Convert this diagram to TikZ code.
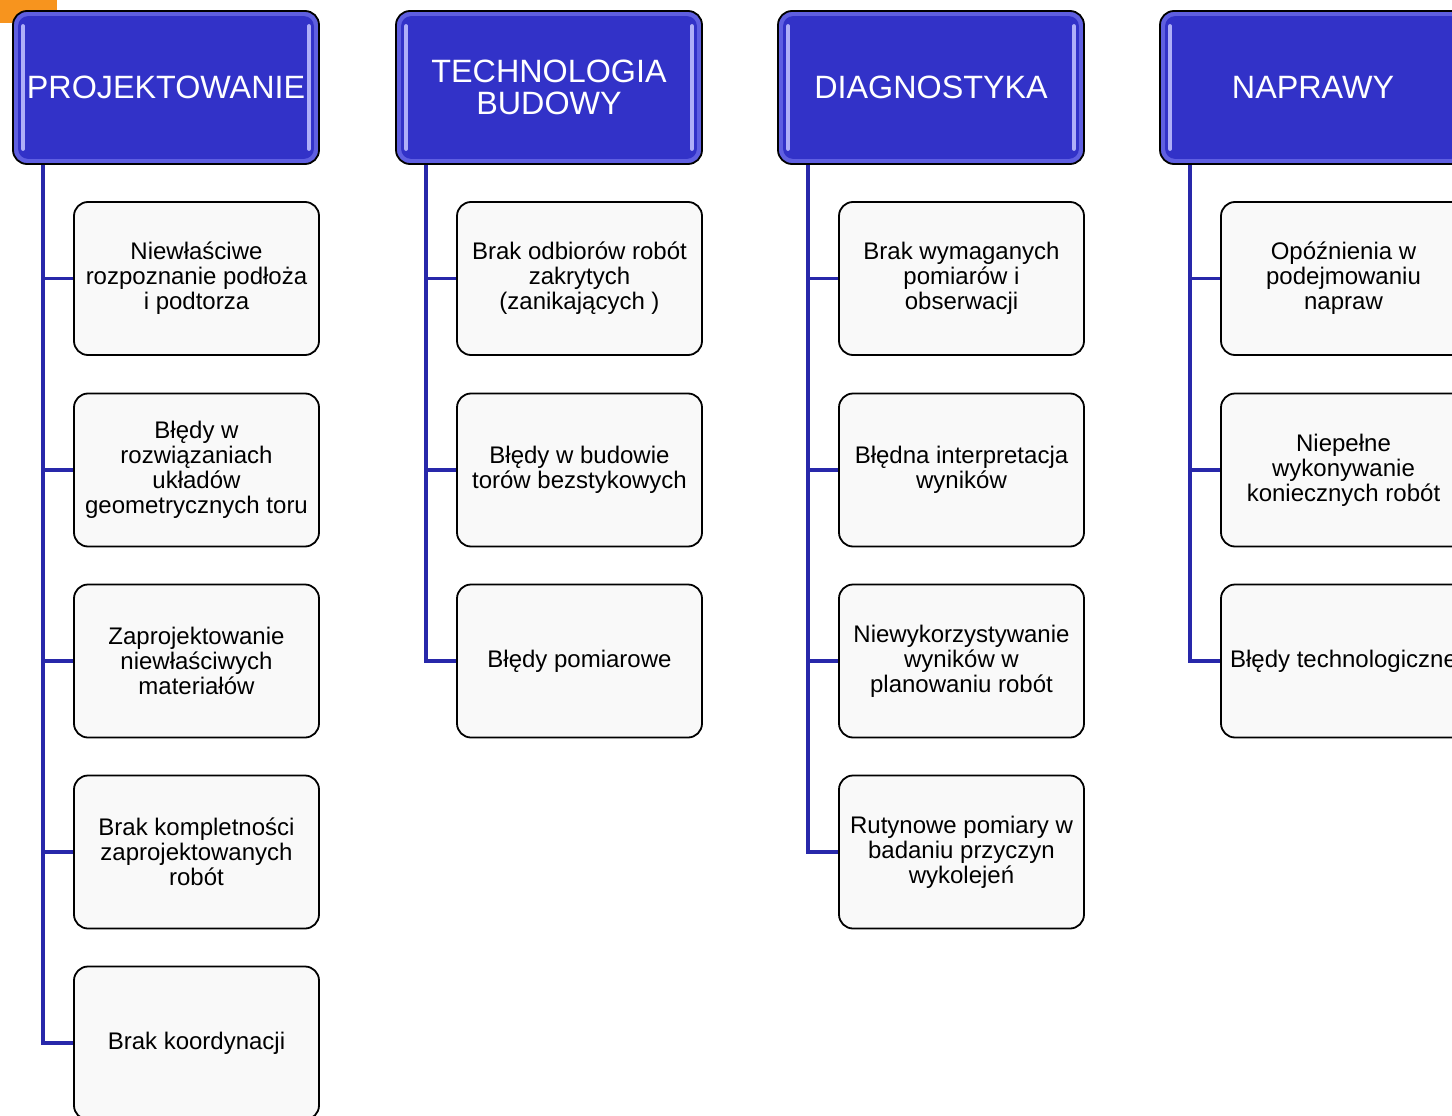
\documentclass[tikz,border=0pt]{standalone}
\usepackage{fontspec}
\setmainfont{Liberation Sans}
\definecolor{hdrfill}{RGB}{50,50,200}
\definecolor{hdrglow}{RGB}{95,95,225}
\definecolor{hdrbar}{RGB}{175,175,248}
\definecolor{connblue}{RGB}{40,40,170}
\definecolor{boxfill}{RGB}{249,249,249}
\definecolor{cornerorange}{RGB}{247,148,30}
\tikzset{
  hdr/.style={draw=black, line width=1.8pt, fill=hdrglow, rounded corners=14pt,
    minimum width=306pt, minimum height=153pt, inner sep=0pt, align=center,
    text=white, font=\fontsize{32.3}{32.5}\selectfont},
  hdrin/.style={fill=hdrfill, rounded corners=10pt},
  hdrbarline/.style={draw=hdrbar, line width=4pt, line cap=round},
  child/.style={draw=black, line width=1.8pt, fill=boxfill, rounded corners=14pt,
    minimum width=245pt, minimum height=153pt, inner sep=0pt, align=center,
    text=black, font=\fontsize{24}{25}\selectfont},
  conn/.style={draw=connblue, line width=3.2pt}
}
\newcommand{\hdrdeco}[1]{%
  \fill[hdrin] ([xshift=6pt,yshift=-6pt]#1.north west) rectangle ([xshift=-6pt,yshift=6pt]#1.south east);
  \draw[hdrbarline] ([xshift=11pt,yshift=-16pt]#1.north west) -- ([xshift=11pt,yshift=16pt]#1.south west);
  \draw[hdrbarline] ([xshift=-11pt,yshift=-16pt]#1.north east) -- ([xshift=-11pt,yshift=16pt]#1.south east);
}
\begin{document}
\begin{tikzpicture}[x=1pt,y=-1pt]
\useasboundingbox (0,0) rectangle (1452,1116);
\clip (0,0) rectangle (1452,1116);
\fill[cornerorange] (0,0) rectangle (57,23);

% headers
\node[hdr] (h1) at (166,87.5) {};
\node[hdr] (h2) at (549,87.5) {};
\node[hdr] (h3) at (931,87.5) {};
\node[hdr] (h4) at (1313,87.5) {};
\hdrdeco{h1}\hdrdeco{h2}\hdrdeco{h3}\hdrdeco{h4}
\node[hdr, draw=none, fill=none] (h1t) at (h1.center) {PROJEKTOWANIE};
\node[hdr, draw=none, fill=none] (h2t) at (h2.center) {TECHNOLOGIA\\BUDOWY};
\node[hdr, draw=none, fill=none] (h3t) at (h3.center) {DIAGNOSTYKA};
\node[hdr, draw=none, fill=none] (h4t) at (h4.center) {NAPRAWY};

% trunk start points
\coordinate (t1) at (43,165);
\coordinate (t2) at (426,165);
\coordinate (t3) at (808,165);
\coordinate (t4) at (1190,165);

% column 1
\node[child] (c11) at (196.5,278.5) {Niewłaściwe\\rozpoznanie podłoża\\i podtorza};
\node[child] (c12) at (196.5,470) {Błędy w\\rozwiązaniach\\układów\\geometrycznych toru};
\node[child] (c13) at (196.5,661) {Zaprojektowanie\\niewłaściwych\\materiałów};
\node[child] (c14) at (196.5,852) {Brak kompletności\\zaprojektowanych\\robót};
\node[child] (c15) at (196.5,1043) {Brak koordynacji};

% column 2
\node[child] (c21) at (579.5,278.5) {Brak odbiorów robót\\zakrytych\\(zanikających )};
\node[child] (c22) at (579.5,470) {Błędy w budowie\\torów bezstykowych};
\node[child] (c23) at (579.5,661) {Błędy pomiarowe};

% column 3
\node[child] (c31) at (961.5,278.5) {Brak wymaganych\\pomiarów i\\obserwacji};
\node[child] (c32) at (961.5,470) {Błędna interpretacja\\wyników};
\node[child] (c33) at (961.5,661) {Niewykorzystywanie\\wyników w\\planowaniu robót};
\node[child] (c34) at (961.5,852) {Rutynowe pomiary w\\badaniu przyczyn\\wykolejeń};

% column 4
\node[child] (c41) at (1343.5,278.5) {Opóźnienia w\\podejmowaniu\\napraw};
\node[child] (c42) at (1343.5,470) {Niepełne\\wykonywanie\\koniecznych robót};
\node[child] (c43) at (1343.5,661) {Błędy technologiczne};

% connectors
\draw[conn] (t1) |- (c15.west);
\foreach \c in {c11,c12,c13,c14} \draw[conn] (\c.west -| t1) -- (\c.west);
\draw[conn] (t2) |- (c23.west);
\foreach \c in {c21,c22} \draw[conn] (\c.west -| t2) -- (\c.west);
\draw[conn] (t3) |- (c34.west);
\foreach \c in {c31,c32,c33} \draw[conn] (\c.west -| t3) -- (\c.west);
\draw[conn] (t4) |- (c43.west);
\foreach \c in {c41,c42} \draw[conn] (\c.west -| t4) -- (\c.west);
\end{tikzpicture}
\end{document}
